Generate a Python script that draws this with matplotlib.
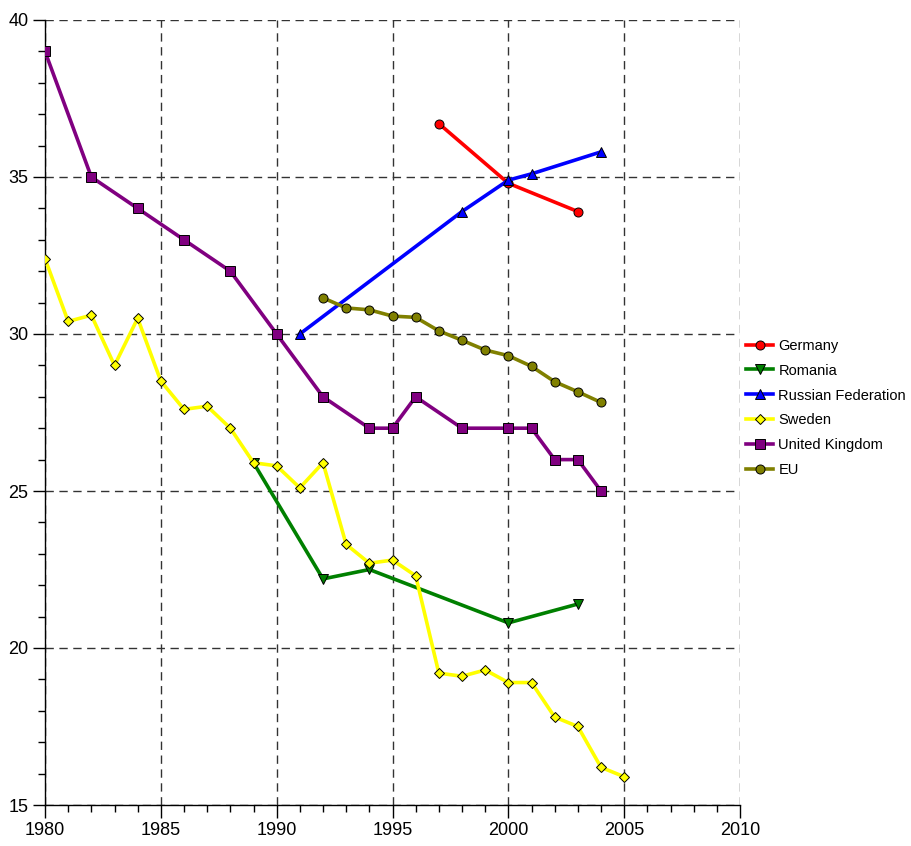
import matplotlib

matplotlib.use("Agg")
import matplotlib.pyplot as plt
from matplotlib.ticker import MultipleLocator

plt.rcParams["font.family"] = ["Liberation Sans", "DejaVu Sans"]

# Data
germany_years = [1997, 2000, 2003]
germany_values = [36.7, 34.8, 33.9]

romania_years = [1989, 1992, 1994, 2000, 2003]
romania_values = [25.9, 22.2, 22.5, 20.8, 21.4]

russia_years = [1991, 1998, 2000, 2001, 2004]
russia_values = [30.0, 33.9, 34.9, 35.1, 35.8]

sweden_years = list(range(1980, 2006))
sweden_values = [32.4, 30.4, 30.6, 29.0, 30.5, 28.5, 27.6, 27.7, 27.0, 25.9,
                 25.8, 25.1, 25.9, 23.3, 22.7, 22.8, 22.3, 19.2, 19.1, 19.3,
                 18.9, 18.9, 17.8, 17.5, 16.2, 15.9]

uk_years = [1980, 1982, 1984, 1986, 1988, 1990, 1992, 1994, 1995, 1996,
            1998, 2000, 2001, 2002, 2003, 2004]
uk_values = [39, 35, 34, 33, 32, 30, 28, 27, 27, 28, 27, 27, 27, 26, 26, 25]

eu_years = list(range(1992, 2005))
eu_values = [31.15, 30.83, 30.77, 30.57, 30.53, 30.1, 29.8, 29.49, 29.31,
             28.97, 28.48, 28.16, 27.82]

series = [
    ("Germany", germany_years, germany_values, "#ff0000", "o"),
    ("Romania", romania_years, romania_values, "#008000", "v"),
    ("Russian Federation", russia_years, russia_values, "#0000ff", "^"),
    ("Sweden", sweden_years, sweden_values, "#ffff00", "D"),
    ("United Kingdom", uk_years, uk_values, "#800080", "s"),
    ("EU", eu_years, eu_values, "#808000", "o"),
]

fig = plt.figure(figsize=(9.12, 8.46), dpi=100)
ax = fig.add_axes([45 / 912, 1 - 805 / 846, 695 / 912, 785 / 846])

for name, years, values, color, marker in series:
    ms = 5 if marker == "D" else 6.5
    ax.plot(years, values, color=color, linewidth=2.6, marker=marker,
            markersize=ms, markerfacecolor=color, markeredgecolor="black",
            markeredgewidth=0.7, label=name, zorder=3)

ax.set_xlim(1980, 2010)
ax.set_ylim(15, 40)
ax.xaxis.set_major_locator(MultipleLocator(5))
ax.xaxis.set_minor_locator(MultipleLocator(1))
ax.yaxis.set_major_locator(MultipleLocator(5))
ax.yaxis.set_minor_locator(MultipleLocator(1))

ax.grid(True, which="major", color="#333333", linestyle=(0, (6, 4)), linewidth=1.0)
ax.set_axisbelow(True)

ax.spines["top"].set_visible(False)
ax.spines["right"].set_visible(False)
ax.spines["left"].set_linewidth(1.0)
ax.spines["bottom"].set_linewidth(1.0)

ax.tick_params(which="major", direction="out", length=9, width=1.0,
               labelsize=13, pad=3)
ax.tick_params(which="minor", direction="out", length=5, width=1.0)

ax.legend(loc="center left", bbox_to_anchor=(1.005, 1 - (408 - 20) / 785),
          frameon=False, fontsize=10.5, handlelength=1.8, handletextpad=0.4,
          labelspacing=0.75, borderaxespad=0.0, borderpad=0.2)

fig.savefig("out.png", dpi=100)
